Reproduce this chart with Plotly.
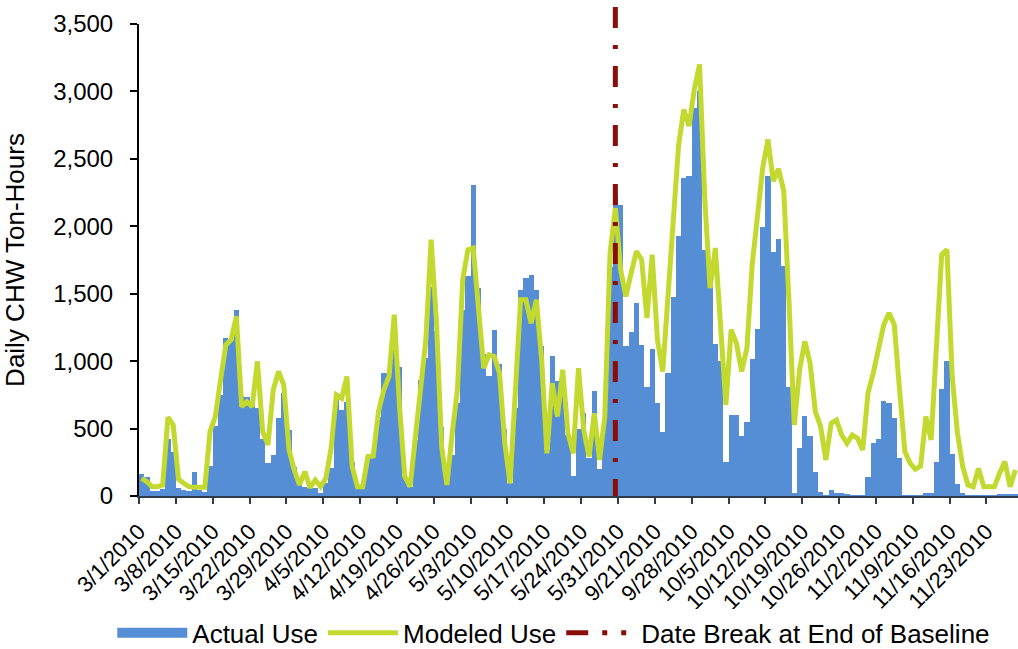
import plotly.graph_objects as go
import pandas as pd

# ---- data ----
baseline_dates = pd.date_range("2010-03-01", "2010-05-31", freq="D")
post_dates = pd.date_range("2010-09-15", "2010-11-28", freq="D")
categories = [f"{d.month}/{d.day}/{d.year}" for d in list(baseline_dates) + list(post_dates)]

actual_use = [
    160, 143, 40, 37, 50, 425, 330, 57, 45, 37, 180, 45, 32, 223, 522, 750, 1170, 1158, 1381, 738,
    737, 680, 650, 420, 245, 302, 577, 765, 490, 218, 94, 69, 57, 57, 20, 94, 205, 762, 639, 700,
    250, 57, 57, 292, 317, 589, 911, 911, 1150, 960, 150, 69, 416, 861, 1022, 1550, 1220, 515, 119, 304,
    688, 1381, 1629, 2309, 1542, 1050, 891, 1233, 980, 500, 94, 651, 1530, 1616, 1641, 1530, 1109, 350, 1035, 856,
    760, 450, 149, 500, 614, 280, 782, 200, 564, 1700, 2235, 2160,
    1109, 1213, 1431, 1121, 807, 1089, 688, 478, 911, 1473, 1926, 2359, 2376, 2880, 3000, 1827, 1600, 1126,
    1000, 255, 601, 601, 448, 552, 1015, 1240, 1995, 2371, 1807, 1906, 1703, 807, 20, 354, 594, 446, 181, 32,
    7, 45, 25, 20, 12, 7, 5, 7, 144, 391, 421, 708, 693, 577, 280, 7, 3, 3, 7, 20,
    25, 255, 797, 998, 309, 87, 20, 7, 5, 5, 5, 5, 5, 10, 12, 12, 12,
]

modeled_use = [
    131, 106, 69, 69, 82, 584, 527, 124, 94, 69, 64, 64, 64, 478, 589, 861, 1121, 1158, 1332, 663,
    700, 663, 998, 478, 379, 787, 923, 824, 342, 193, 82, 181, 62, 119, 69, 131, 354, 750, 725, 886,
    218, 69, 69, 292, 297, 626, 787, 886, 1344, 663, 144, 69, 441, 762, 1158, 1901, 1300, 366, 82, 465,
    787, 1604, 1827, 1839, 1431, 948, 1047, 1035, 911, 391, 94, 762, 1455, 1455, 1282, 1455, 1010, 317, 837, 589,
    936, 465, 317, 948, 490, 292, 614, 267, 589, 1802, 2136, 1678,
    1480, 1653, 1814, 1752, 1319, 1789, 1158, 923, 1480, 2000, 2594, 2866, 2743, 3015, 3200, 2198, 1542, 1839,
    1233, 676, 1233, 1134, 923, 1097, 1715, 2050, 2433, 2644, 2334, 2426, 2260, 1431, 527, 936, 1146, 985, 626, 515,
    267, 540, 564, 453, 391, 453, 428, 342, 762, 911, 1084, 1270, 1356, 1270, 787, 329, 243, 198, 223, 589,
    416, 1035, 1790, 1827, 886, 465, 218, 82, 69, 205, 69, 69, 69, 168, 255, 69, 193,
]

tick_labels = [
    "3/1/2010", "3/8/2010", "3/15/2010", "3/22/2010", "3/29/2010", "4/5/2010", "4/12/2010",
    "4/19/2010", "4/26/2010", "5/3/2010", "5/10/2010", "5/17/2010", "5/24/2010", "5/31/2010",
    "9/21/2010", "9/28/2010", "10/5/2010", "10/12/2010", "10/19/2010", "10/26/2010",
    "11/2/2010", "11/9/2010", "11/16/2010", "11/23/2010",
]
break_label = "5/30/2010"

# ---- positions derived from categories ----
n = len(categories)
x_centers = [i + 0.5 for i in range(n)]
tick_vals = [categories.index(lbl) for lbl in tick_labels]
break_x = categories.index(break_label) + 0.5

font_family = "Liberation Sans, Arial, sans-serif"
bar_color = "#558ED5"
line_color = "#C3D92F"
break_color = "#8B0D0A"
axis_color = "#2f3b4c"

fig = go.Figure()
fig.add_trace(go.Bar(
    x=x_centers, y=actual_use, width=1.0, name="Actual Use", showlegend=False,
    marker=dict(color=bar_color, line=dict(width=0)),
))
# legend swatch for the bars (wide filled block as in the reference)
fig.add_trace(go.Scatter(
    x=[None], y=[None], mode="lines", name="Actual Use",
    line=dict(color=bar_color, width=14),
))
fig.add_trace(go.Scatter(
    x=x_centers, y=modeled_use, mode="lines", name="Modeled Use",
    line=dict(color=line_color, width=5),
))
fig.add_trace(go.Scatter(
    x=[None], y=[None], mode="lines", name="Date Break at End of Baseline",
    line=dict(color=break_color, width=5, dash="22px,14px,5px,14px,5px,14px"),
))

fig.add_shape(
    type="line", xref="x", yref="paper",
    x0=break_x, x1=break_x, y0=1.036, y1=0,
    line=dict(color=break_color, width=5, dash="21px,17px,4px,17px"),
    layer="above",
)

fig.update_layout(
    width=1018, height=649, autosize=False,
    margin=dict(l=139, r=0, t=24, b=153, autoexpand=False),
    paper_bgcolor="white", plot_bgcolor="white",
    font=dict(family=font_family, size=24, color="black"),
    bargap=0,
    showlegend=True,
    legend=dict(
        orientation="h", xref="container", yref="container",
        x=0.544, xanchor="center", y=0.025, yanchor="middle",
        font=dict(size=26), itemwidth=70, tracegroupgap=0,
    ),
)

fig.update_xaxes(
    range=[0, n], tickmode="array", tickvals=tick_vals, ticktext=tick_labels,
    tickangle=-45, tickfont=dict(size=22), ticks="outside", ticklen=6, tickwidth=1.5,
    tickcolor=axis_color, showline=True, linecolor=axis_color, linewidth=2,
    showgrid=False, zeroline=False, automargin=False, ticklabelstandoff=6,
)
fig.update_yaxes(
    range=[0, 3500], tickmode="linear", tick0=0, dtick=500, tickformat=",",
    tickfont=dict(size=24), ticks="outside", ticklen=7, tickwidth=2, tickcolor="black",
    showline=True, linecolor="black", linewidth=2, showgrid=False, zeroline=False,
    automargin=False, ticklabelstandoff=12,
    title=dict(text="Daily CHW Ton-Hours", font=dict(size=26), standoff=22),
)

fig.write_html(
    "out.html",
    config={"displayModeBar": False},
    post_script="document.body.style.margin='0';document.body.style.overflow='hidden';",
)
